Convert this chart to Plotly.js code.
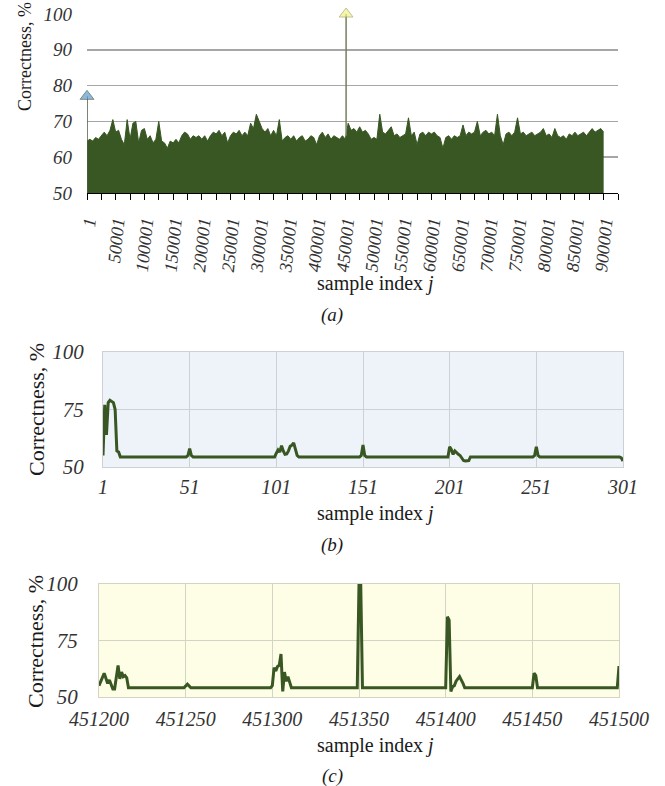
<!DOCTYPE html>
<html><head><meta charset="utf-8">
<script src="https://cdn.plot.ly/plotly-3.0.1.min.js"></script>
<style>html,body{margin:0;padding:0;background:#fff}#chart{width:665px;height:786px}</style>
</head><body><div id="chart"></div>
<script>
// ---------- Panel (a): whole range, upper envelope sampled every 5000 samples ----------
const stepA = 5000;
const envelopeA = [
 64.5,65,64.5,65.5,65,66,67,66,67.5,70.5,
 67,67.5,65,63.5,70.5,65,69.5,70,64,67.5,
 68,65,66,64,65,70,64.5,64,62.5,64.5,
 64,65,64,66,67,66.5,65,66,65.5,66,
 65,66,64.5,66,67,66.5,67.5,66,67,64,
 66,67,66.5,67.5,66,67,66,69.5,68,72,
 70,68,67,68,66,67.5,66,70.5,64.5,65.5,
 66,65,66,64.5,65.5,66,64.5,65,66,65.5,
 63.5,66,67,65.5,66.5,65,66,65.5,65,66,
 65,69.5,67.5,68,67,68.5,67,67.5,66.5,65,
 65.5,65,72,67,66.5,67.5,68.5,66,66.5,65.5,
 66,66.5,71,66,67,63.5,66.5,67,66,67,
 66.5,67,66,65.5,62.5,65.5,66,65,66,65.5,
 66,69,66,67,66.5,67,70,66,67,67.5,
 66.5,67,66,72,66,63.5,66.5,67,66,67,
 71,66.5,67,66,66.5,67,66,66.5,67,68,
 66,66.5,65.5,68,66,65.5,66,65,66.5,66,
 67,66,66.5,67,66,67,68,67,67.5,68,
 67];
const firstPeakX = [1, 1];
const firstPeakY = [50, 77];
const maxPeakX = [451351, 451351];
const maxPeakY = [66, 100];
const ticksA = [1,50001,100001,150001,200001,250001,300001,350001,400001,450001,
  500001,550001,600001,650001,700001,750001,800001,850001,900001];
const yTicksA = [50,60,70,80,90,100];

// ---------- Panel (b): samples 1..301 (breakpoints of the line) ----------
const xB = [1,2,3,4,5,6,7,8,9,10,11,
  49,50,51,52,53,
  100,101,102,103,104,105,106,107,108,109,110,111,112,113,114,
  149,150,151,152,153,
  200,201,202,203,204,205,206,207,208,209,210,211,212,213,
  249,250,251,252,253,
  299,300,301];
const yB = [55,77,64,78,79,78.5,78,75,57,56.5,54.4,
  54.4,55,58,55,54.4,
  54.4,56,57.4,56.5,59.3,57,55.5,55.7,57,59,59.5,60.5,57,55,54.4,
  54.4,55,59.6,55,54.4,
  54.4,58.8,57.5,55.5,57,56,55.5,55,54,52.8,52.6,52.6,52.8,54.4,
  54.4,55,58.8,55,54.4,
  54.4,54,52.6];
const ticksB = [1,51,101,151,201,251,301];
const yTicksB = [50,75,100];

// ---------- Panel (c): samples 451200..451500 (breakpoints of the line) ----------
const xC = [451200,451201,451203,451205,451206,451208,451209,451211,451212,451213,451214,451215,451216,451217,
  451249,451251,451253,
  451299,451300,451301,451302,451303,451304,451305,451306,451307,451308,451309,451310,451311,
  451349,451350,451351,451352,
  451400,451401,451402,451403,451404,451405,451406,451408,451410,451411,
  451450,451451,451452,451453,
  451499,451500];
const yC = [55,57,60.5,56,57.5,53.5,53.5,64,58,61,59,59.5,58.5,54.1,
  54.1,55.7,54.1,
  54.1,55,63,61.5,63.5,64,69,52.5,61,57,59,56,54.1,
  54.1,100,100,54.1,
  54.1,85.5,84,52.5,54.5,55,57,59,56,54.1,
  54.1,60.5,59.5,54.1,
  54.1,63.7];
const ticksC = [451200,451250,451300,451350,451400,451450,451500];
const yTicksC = [50,75,100];

// ---------- layout helpers (pixels -> paper) ----------
const W = 665, H = 786;
const px = (a, b) => [a / W, b / W];
const py = (top, bottom) => [1 - bottom / H, 1 - top / H];
const SERIF = 'Liberation Serif, Times New Roman, serif';
const tickFont = s => ({family: SERIF, size: s, color: '#333333', style: 'italic'});
const itx = arr => arr.map(v => '<i>' + v + '</i>');
const green = '#385723';

const xA = envelopeA.map((v, i) => 1 + i * stepA);

const traces = [
  {x: xA, y: envelopeA, type: 'scatter', mode: 'lines', fill: 'tozeroy',
   fillcolor: green, line: {color: green, width: 1}, xaxis: 'x', yaxis: 'y', hoverinfo: 'skip'},
  {x: firstPeakX, y: firstPeakY, type: 'scatter', mode: 'lines+markers', cliponaxis: false,
   line: {color: '#4d5e45', width: 1.5},
   marker: {symbol: 'triangle-up', size: [0, 12], color: '#5b9bd5'}, xaxis: 'x', yaxis: 'y'},
  {x: maxPeakX, y: maxPeakY, type: 'scatter', mode: 'lines+markers', cliponaxis: false,
   line: {color: '#76805e', width: 1.5},
   marker: {symbol: 'triangle-up', size: [0, 12], color: '#f2f28a', line: {color: '#a8a860', width: 1}},
   xaxis: 'x', yaxis: 'y'},
  {x: xB, y: yB, type: 'scatter', mode: 'lines', line: {color: green, width: 3},
   xaxis: 'x2', yaxis: 'y2'},
  {x: xC, y: yC, type: 'scatter', mode: 'lines', line: {color: green, width: 3},
   xaxis: 'x3', yaxis: 'y3'}
];

const ann = (text, x, y, size, angle) => ({
  text, x: x / W, y: 1 - y / H, xref: 'paper', yref: 'paper', showarrow: false,
  xanchor: 'center', yanchor: 'middle', textangle: angle || 0,
  font: {family: SERIF, size, color: '#1a1a1a'}
});

const layout = {
  width: W, height: H, margin: {l: 0, r: 0, t: 0, b: 0},
  font: {family: SERIF},
  paper_bgcolor: '#ffffff', plot_bgcolor: 'rgba(0,0,0,0)', showlegend: false,
  xaxis: {domain: px(87, 618), range: [1, 925001], tickmode: 'array', tickvals: ticksA, ticktext: itx(ticksA),
    tickangle: -84, tickfont: tickFont(18), ticks: 'outside', ticklen: 6, tickcolor: '#000',
    showline: true, linecolor: '#000', linewidth: 1.3, showgrid: false, zeroline: false,
    minor: {tick0: 1, dtick: 25000, ticks: 'outside', ticklen: 6, tickcolor: '#000', showgrid: false},
    ticklabelstandoff: 5, anchor: 'y'},
  yaxis: {domain: py(14, 193), range: [50, 100], tickmode: 'array', tickvals: yTicksA, ticktext: itx(yTicksA),
    tickfont: tickFont(19),
    showgrid: true, gridcolor: '#a6a6a6', gridwidth: 1.5, zeroline: false, showline: false,
    ticks: '', ticklabelstandoff: 14, anchor: 'x'},
  xaxis2: {domain: px(103, 623), range: [1, 301], tickmode: 'array', tickvals: ticksB, ticktext: itx(ticksB),
    tickfont: tickFont(20),
    showgrid: true, gridcolor: '#cdd1d6', zeroline: false, showline: true, mirror: true,
    linecolor: '#cdd1d6', ticks: '', ticklabelstandoff: 2, anchor: 'y2'},
  yaxis2: {domain: py(352, 467), range: [50, 100], tickmode: 'array', tickvals: yTicksB, ticktext: itx(yTicksB),
    tickfont: tickFont(21),
    showgrid: true, gridcolor: '#cdd1d6', zeroline: false, showline: true, mirror: true,
    linecolor: '#cdd1d6', ticks: '', ticklabelstandoff: 14, anchor: 'x2'},
  xaxis3: {domain: px(99, 619), range: [451200, 451500], tickmode: 'array', tickvals: ticksC, ticktext: itx(ticksC),
    tickfont: tickFont(20), showgrid: true, gridcolor: '#d4d4c4', zeroline: false,
    showline: true, mirror: true, linecolor: '#d4d4c4', ticks: '', ticklabelstandoff: 4, anchor: 'y3'},
  yaxis3: {domain: py(584, 697), range: [50, 100], tickmode: 'array', tickvals: yTicksC, ticktext: itx(yTicksC),
    tickfont: tickFont(21),
    showgrid: true, gridcolor: '#d4d4c4', zeroline: false, showline: true, mirror: true,
    linecolor: '#d4d4c4', ticks: '', ticklabelstandoff: 16, anchor: 'x3'},
  shapes: [
    {type: 'rect', xref: 'x2 domain', yref: 'y2 domain', x0: 0, x1: 1, y0: 0, y1: 1,
     fillcolor: '#eef3fa', line: {width: 0}, layer: 'below'},
    {type: 'rect', xref: 'x3 domain', yref: 'y3 domain', x0: 0, x1: 1, y0: 0, y1: 1,
     fillcolor: '#fefee6', line: {width: 0}, layer: 'below'}
  ],
  annotations: [
    ann('Correctness, %', 25, 57, 18, -90),
    ann('sample index <i>j</i>', 375, 283, 20),
    ann('<i>(a)</i>', 332, 315, 19),
    ann('Correctness, %', 36, 410, 22, -90),
    ann('sample index <i>j</i>', 375, 513, 20),
    ann('<i>(b)</i>', 332, 545, 19),
    ann('Correctness, %', 35, 642, 22, -90),
    ann('sample index <i>j</i>', 375, 745, 20),
    ann('<i>(c)</i>', 332, 776, 19)
  ]
};

Plotly.newPlot('chart', traces, layout, {staticPlot: true, displayModeBar: false});
</script></body></html>
